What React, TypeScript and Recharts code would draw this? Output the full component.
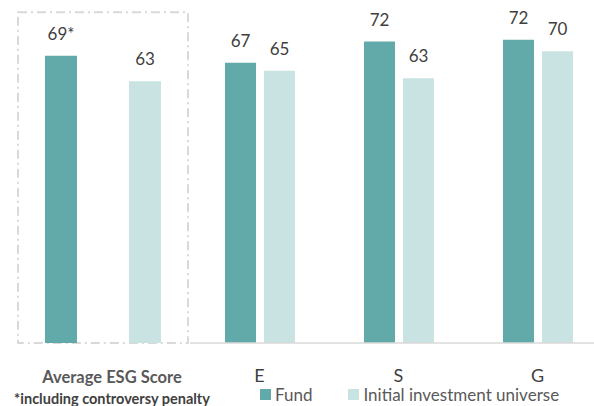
import React from 'react';
import { BarChart, Bar, XAxis, YAxis, LabelList, Legend, ReferenceArea } from 'recharts';

const FONT = 'Lato, "Open Sans", sans-serif';

// Overall panel
const overallCategories = ['Average ESG Score'];
const overallNote = '*including controversy penalty';
const overallFund = [68.6];
const overallUniverse = [62.5];

// Pillar panel
const pillarCategories = ['E', 'S', 'G'];
const pillarFund = [66.9, 72.0, 72.4];
const pillarUniverse = [65.0, 63.2, 69.7];

const seriesNames = ['Fund', 'Initial investment universe'];
const boundaryTicks = [0, 1, 2, 3];
const Y_DOMAIN: [number, number] = [0, 80];
const BOX_TOP = 79;

const FUND_COLOR = '#62AAA9';
const UNIV_COLOR = '#C9E3E3';
const TEXT_COLOR = '#404040';
const GRID_COLOR = '#D9D9D9';

const overallData = overallCategories.map((c, i) => ({
  category: c,
  fund: overallFund[i],
  universe: overallUniverse[i],
}));

const pillarData = pillarCategories.map((c, i) => ({
  category: c,
  fund: pillarFund[i],
  universe: pillarUniverse[i],
}));

const OverallTick = (props: any) => {
  const { x, y, payload } = props;
  return (
    <g>
      <text
        x={x + 9}
        y={y + 32}
        textAnchor="middle"
        fontFamily={FONT}
        fontWeight={700}
        fontSize={16.5}
        fill="#595959"
      >
        {payload.value}
      </text>
      <text
        x={x + 9}
        y={y + 53}
        textAnchor="middle"
        fontFamily={FONT}
        fontWeight={700}
        fontSize={14.5}
        fill="#404040"
      >
        {overallNote}
      </text>
    </g>
  );
};

const renderLegend = (props: any) => {
  const { payload } = props;
  return (
    <div
      style={{
        display: 'flex',
        alignItems: 'center',
        fontFamily: FONT,
        fontSize: 17,
        color: '#595959',
        whiteSpace: 'nowrap',
        lineHeight: '13px',
        height: 13,
      }}
    >
      {(payload || []).map((e: any, i: number) => (
        <span
          key={i}
          style={{ display: 'flex', alignItems: 'center', marginRight: i === 0 ? 36 : 0 }}
        >
          <span
            style={{
              display: 'inline-block',
              width: 11,
              height: 11,
              background: e.color,
              marginRight: 4,
            }}
          />
          {e.value}
        </span>
      ))}
    </div>
  );
};

export default function App() {
  return (
    <div
      style={{
        position: 'fixed',
        left: 0,
        top: 0,
        width: 594,
        height: 406,
        overflow: 'hidden',
        background: '#ffffff',
        fontFamily: FONT,
      }}
    >
      <div style={{ position: 'absolute', left: 0, top: 0 }}>
        <BarChart
          width={240}
          height={406}
          data={overallData}
          margin={{ top: 8, right: 52, bottom: 0, left: 18 }}
          barSize={32}
          barGap={52}
        >
          <XAxis
            dataKey="category"
            height={63}
            axisLine={false}
            tickLine={false}
            interval={0}
            tick={<OverallTick />}
          />
          <YAxis hide domain={Y_DOMAIN} />
          <ReferenceArea
            x1={overallCategories[0]}
            x2={overallCategories[0]}
            y1={0}
            y2={BOX_TOP}
            fill="none"
            fillOpacity={0}
            stroke={GRID_COLOR}
            strokeWidth={2}
            strokeDasharray="9 4 2 4"
            ifOverflow="visible"
          />
          <Bar dataKey="fund" name={seriesNames[0]} fill={FUND_COLOR} isAnimationActive={false}>
            <LabelList
              dataKey="fund"
              position="top"
              offset={16}
              fill={TEXT_COLOR}
              fontSize={17}
              fontFamily={FONT}
              formatter={(v: any) => `${Math.round(Number(v))}*`}
            />
          </Bar>
          <Bar dataKey="universe" name={seriesNames[1]} fill={UNIV_COLOR} isAnimationActive={false}>
            <LabelList
              dataKey="universe"
              position="top"
              offset={16}
              fill={TEXT_COLOR}
              fontSize={17}
              fontFamily={FONT}
              formatter={(v: any) => `${Math.round(Number(v))}`}
            />
          </Bar>
        </BarChart>
      </div>
      <div style={{ position: 'absolute', left: 190, top: 0 }}>
        <BarChart
          width={417}
          height={406}
          data={pillarData}
          margin={{ top: 8, right: 0, bottom: 0, left: 0 }}
          barSize={31}
          barGap={8}
        >
          <XAxis
            xAxisId="bnd"
            type="number"
            domain={[0, 3]}
            ticks={boundaryTicks}
            allowDataOverflow
            height={1}
            tick={false}
            tickSize={7}
            axisLine={{ stroke: GRID_COLOR, strokeWidth: 1.5 }}
            tickLine={{ stroke: GRID_COLOR, strokeWidth: 1.5 }}
          />
          <XAxis
            xAxisId="cat"
            dataKey="category"
            height={62}
            axisLine={false}
            tickLine={false}
            tickSize={6}
            tickMargin={19}
            interval={0}
            tick={{ fill: TEXT_COLOR, fontSize: 18, fontFamily: FONT }}
          />
          <YAxis hide domain={Y_DOMAIN} />
          <Legend
            layout="horizontal"
            verticalAlign="middle"
            align="center"
            wrapperStyle={{ left: 70, top: 388, width: 'auto' }}
            content={renderLegend}
          />
          <Bar
            xAxisId="cat"
            dataKey="fund"
            name={seriesNames[0]}
            fill={FUND_COLOR}
            isAnimationActive={false}
          >
            <LabelList
              dataKey="fund"
              position="top"
              offset={16}
              fill={TEXT_COLOR}
              fontSize={17}
              fontFamily={FONT}
              formatter={(v: any) => `${Math.round(Number(v))}`}
            />
          </Bar>
          <Bar
            xAxisId="cat"
            dataKey="universe"
            name={seriesNames[1]}
            fill={UNIV_COLOR}
            isAnimationActive={false}
          >
            <LabelList
              dataKey="universe"
              position="top"
              offset={16}
              fill={TEXT_COLOR}
              fontSize={17}
              fontFamily={FONT}
              formatter={(v: any) => `${Math.round(Number(v))}`}
            />
          </Bar>
        </BarChart>
      </div>
    </div>
  );
}
